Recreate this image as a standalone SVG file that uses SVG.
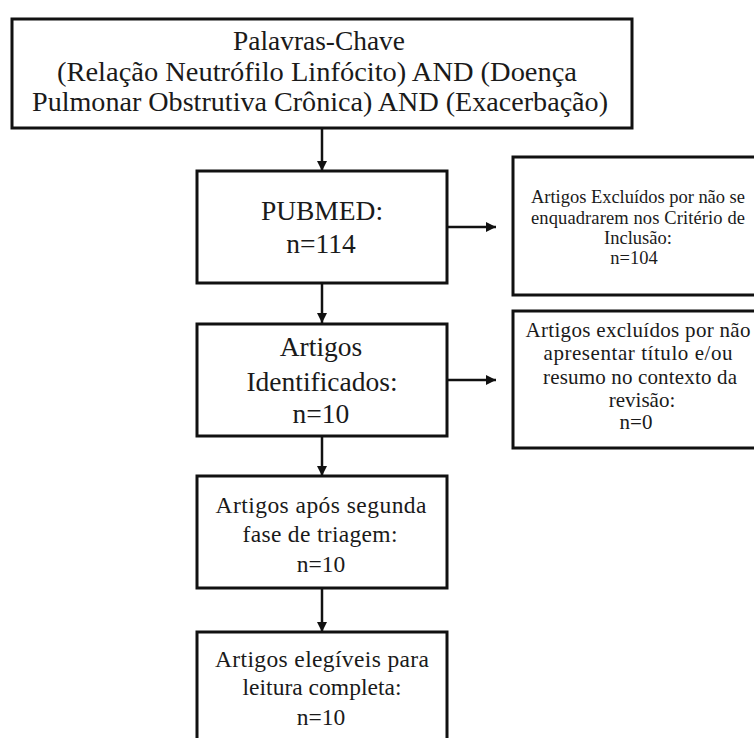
<svg xmlns="http://www.w3.org/2000/svg" width="754" height="738" viewBox="0 0 754 738">
<defs>
<style>
.box{fill:#fff;stroke:#111;stroke-width:3}
.t{font-family:"Liberation Serif","Times New Roman",serif;fill:#1a1a1a;text-anchor:middle}
.conn{stroke:#111;stroke-width:2.5;fill:none}
</style>
<marker id="ah" markerUnits="userSpaceOnUse" markerWidth="11" markerHeight="11" refX="10" refY="5" orient="auto">
<path d="M0,0 L10,5 L0,10 z" fill="#111"/>
</marker>
</defs>
<rect width="754" height="738" fill="#fff"/>
<g id="connectors">
<line class="conn" x1="322" y1="129" x2="322" y2="171" marker-end="url(#ah)"/>
<line class="conn" x1="322" y1="284" x2="322" y2="323" marker-end="url(#ah)"/>
<line class="conn" x1="322" y1="437" x2="322" y2="476" marker-end="url(#ah)"/>
<line class="conn" x1="322" y1="589" x2="322" y2="632" marker-end="url(#ah)"/>
<line class="conn" x1="447" y1="227" x2="496" y2="227" marker-end="url(#ah)"/>
<line class="conn" x1="447" y1="380" x2="496" y2="380" marker-end="url(#ah)"/>
</g>
<g id="keywords">
<rect class="box" x="12" y="19" width="620" height="109"/>
<text class="t" font-size="28" x="319" y="50" textLength="172" lengthAdjust="spacingAndGlyphs">Palavras-Chave</text>
<text class="t" font-size="28" x="317" y="81" textLength="520" lengthAdjust="spacingAndGlyphs">(Relação Neutrófilo Linfócito) AND (Doença</text>
<text class="t" font-size="28" x="320" y="111" textLength="576" lengthAdjust="spacingAndGlyphs">Pulmonar Obstrutiva Crônica) AND (Exacerbação)</text>
</g>
<g id="pubmed">
<rect class="box" x="197" y="171" width="250" height="112"/>
<text class="t" font-size="27.5" x="322" y="220">PUBMED:</text>
<text class="t" font-size="27.5" x="321" y="253">n=114</text>
</g>
<g id="excluded1">
<rect class="box" x="513" y="157" width="260" height="138"/>
<text class="t" font-size="18.5" x="638" y="203" textLength="214" lengthAdjust="spacing">Artigos Excluídos por não se</text>
<text class="t" font-size="18.5" x="638" y="224" textLength="214" lengthAdjust="spacing">enquadrarem nos Critério de</text>
<text class="t" font-size="18.5" x="638" y="244">Inclusão:</text>
<text class="t" font-size="18.5" x="634" y="264">n=104</text>
</g>
<g id="identified">
<rect class="box" x="197" y="324" width="250" height="112"/>
<text class="t" font-size="27.5" x="321" y="356">Artigos</text>
<text class="t" font-size="27.5" x="322" y="391">Identificados:</text>
<text class="t" font-size="27.5" x="321" y="423">n=10</text>
</g>
<g id="excluded2">
<rect class="box" x="513" y="311" width="260" height="137"/>
<text class="t" font-size="21" x="638" y="337" textLength="225" lengthAdjust="spacing">Artigos excluídos por não</text>
<text class="t" font-size="21" x="638" y="360" textLength="189" lengthAdjust="spacing">apresentar título e/ou</text>
<text class="t" font-size="21" x="640" y="384" textLength="194" lengthAdjust="spacing">resumo no contexto da</text>
<text class="t" font-size="21" x="642" y="407">revisão:</text>
<text class="t" font-size="21" x="636" y="429">n=0</text>
</g>
<g id="second-screening">
<rect class="box" x="197" y="476" width="250" height="112"/>
<text class="t" font-size="23.5" x="321" y="513" textLength="211" lengthAdjust="spacing">Artigos após segunda</text>
<text class="t" font-size="23.5" x="320" y="542" textLength="155" lengthAdjust="spacing">fase de triagem:</text>
<text class="t" font-size="23.5" x="321" y="572">n=10</text>
</g>
<g id="eligible">
<rect class="box" x="197" y="632" width="250" height="130"/>
<text class="t" font-size="23.5" x="322" y="667" textLength="214" lengthAdjust="spacing">Artigos elegíveis para</text>
<text class="t" font-size="23.5" x="322" y="695" textLength="159" lengthAdjust="spacing">leitura completa:</text>
<text class="t" font-size="23.5" x="321" y="725">n=10</text>
</g>
</svg>
